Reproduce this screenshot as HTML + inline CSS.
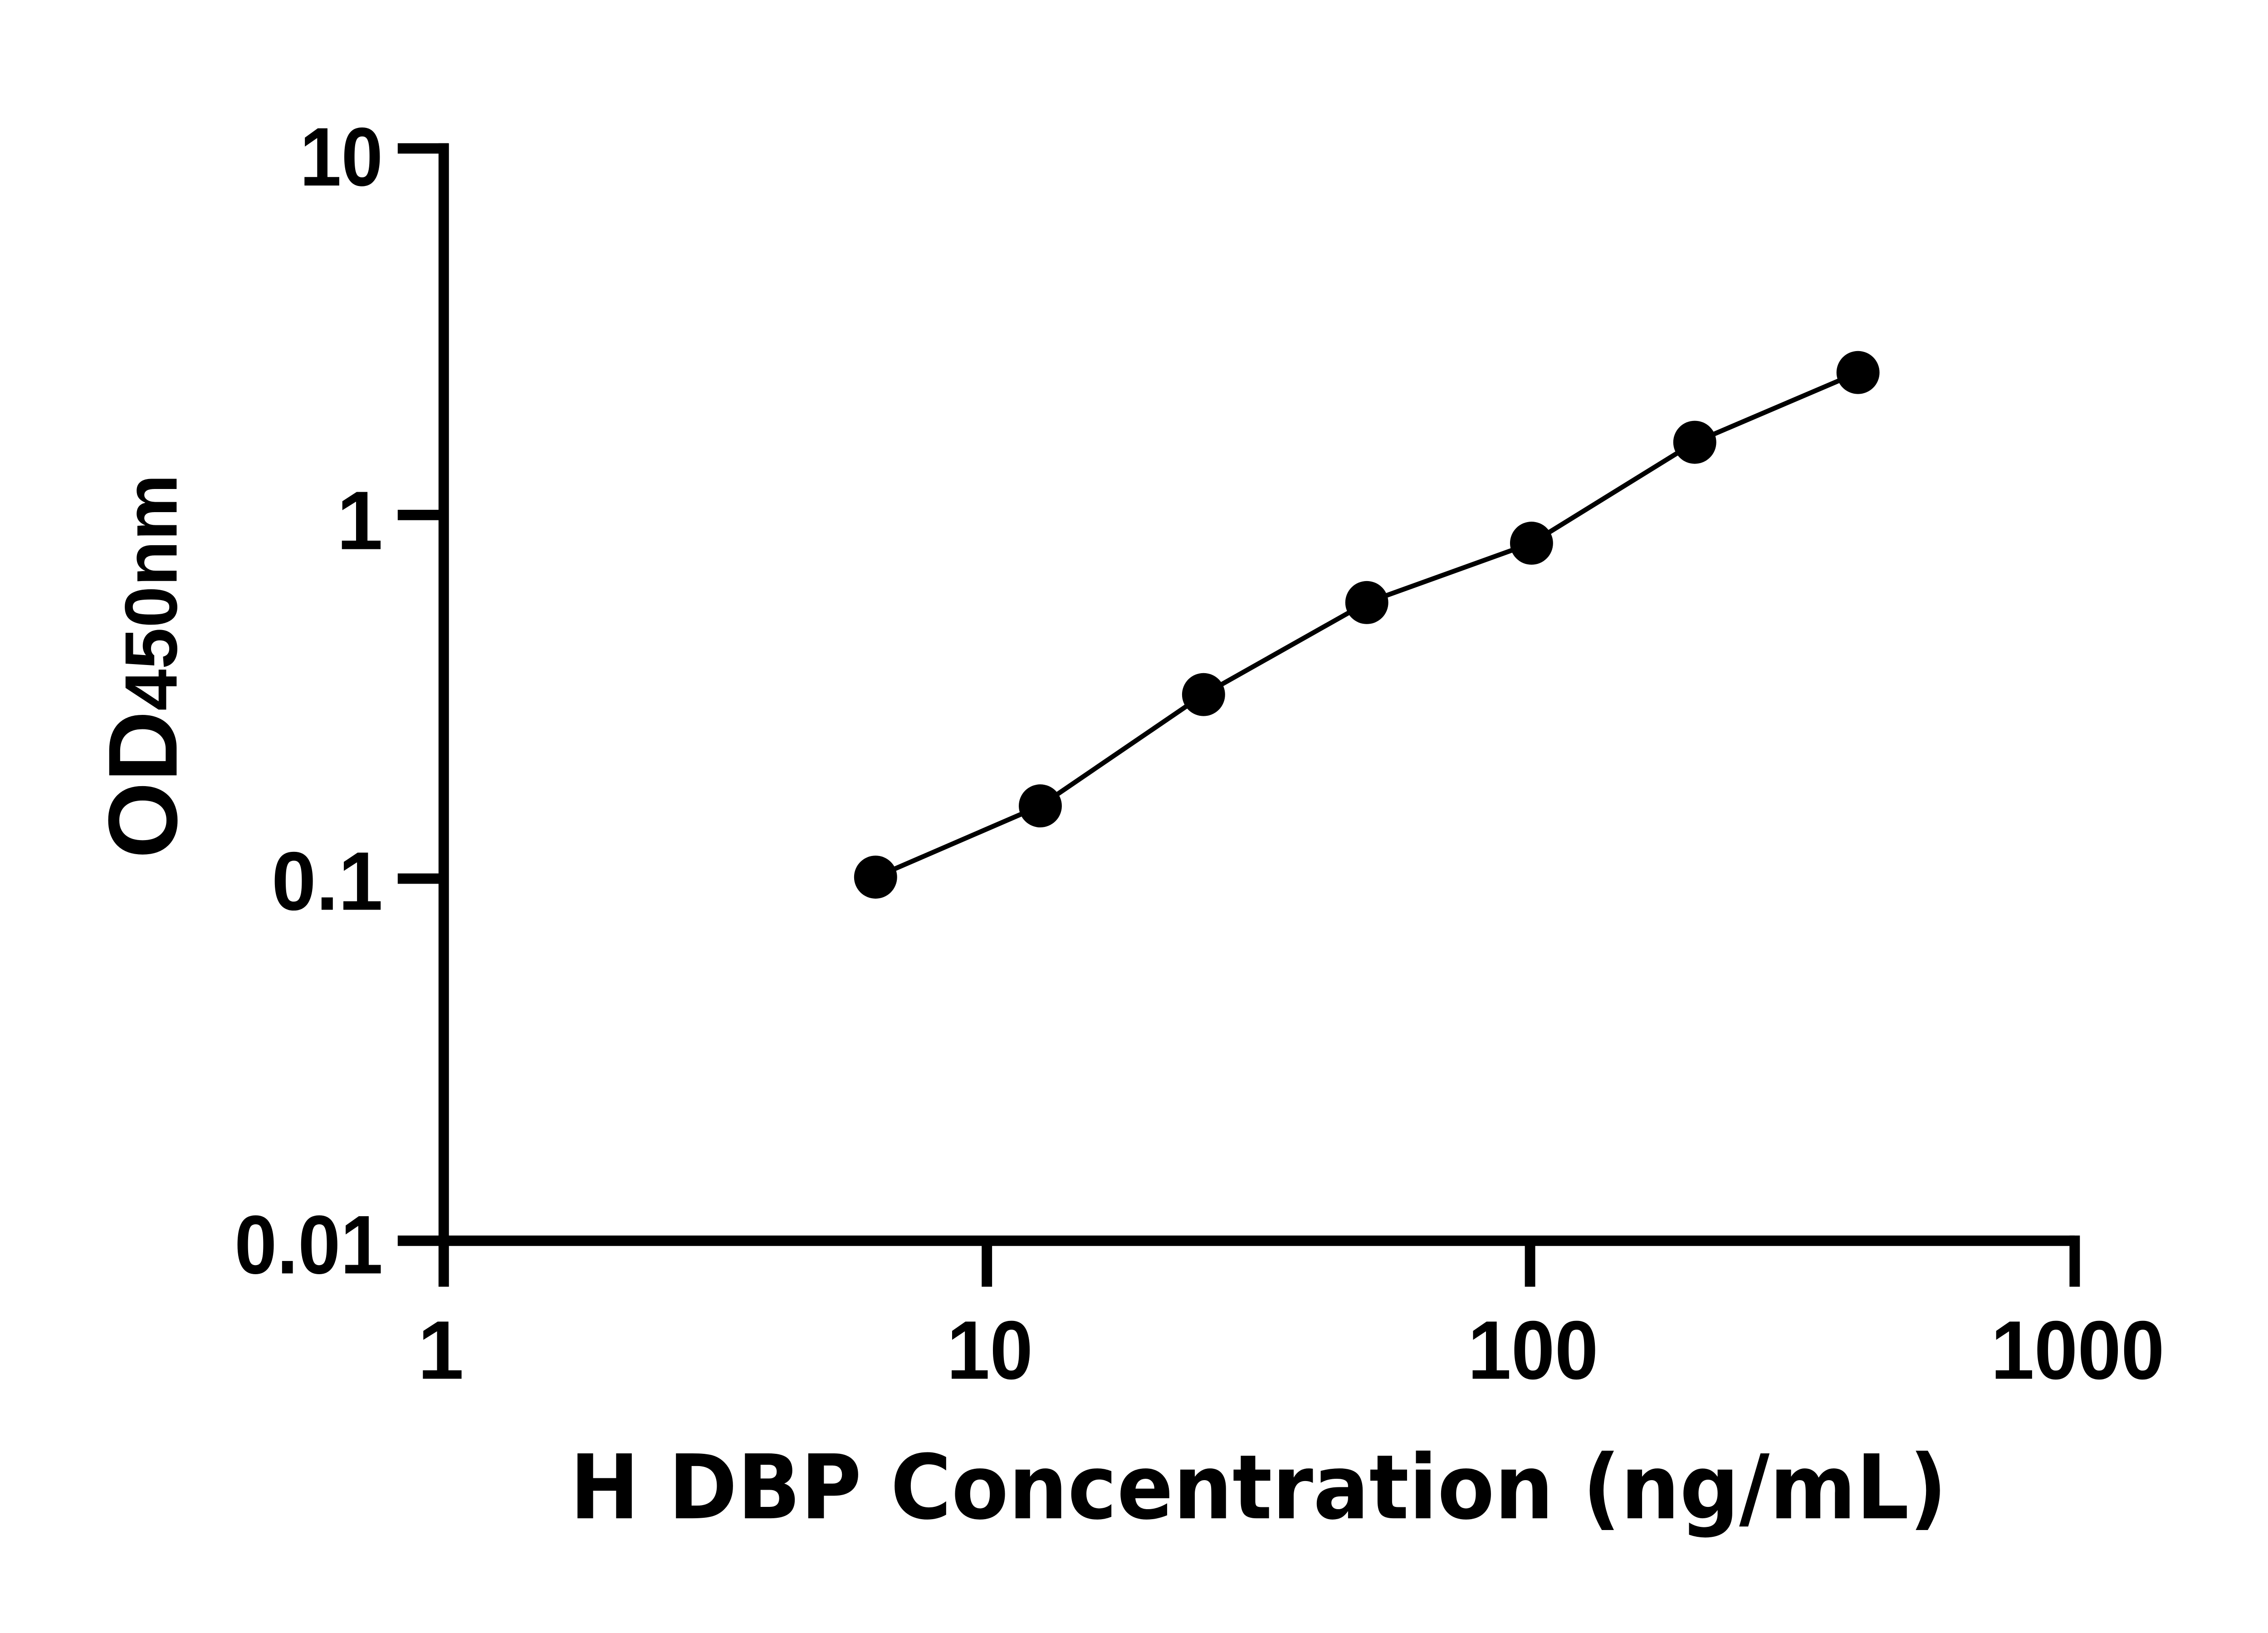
<!DOCTYPE html>
<html><head><meta charset="utf-8"><style>
html,body{margin:0;padding:0;background:#fff;}
svg{display:block;}
text{font-weight:bold;fill:#000;}
.a{font-family:"Liberation Sans",Arial,sans-serif;}
.d{font-family:"DejaVu Sans","Liberation Sans",sans-serif;}
</style></head><body>
<svg width="5130" height="3600" viewBox="0 0 1568 1100.3" preserveAspectRatio="none" xmlns="http://www.w3.org/2000/svg">
<rect width="1568" height="1101" fill="#fff"/>
<g stroke="#000" stroke-width="7" fill="none" stroke-linecap="butt">
<line x1="299" y1="96.5" x2="299" y2="836"/>
<line x1="295.5" y1="836" x2="1398" y2="836"/>
<line x1="268" y1="100" x2="302" y2="100"/>
<line x1="268" y1="347" x2="299" y2="347"/>
<line x1="268" y1="592" x2="299" y2="592"/>
<line x1="268" y1="836" x2="299" y2="836"/>
<line x1="299" y1="836" x2="299" y2="867"/>
<line x1="665" y1="836" x2="665" y2="867"/>
<line x1="1031" y1="836" x2="1031" y2="867"/>
<line x1="1398" y1="832.5" x2="1398" y2="867"/>
</g>
<polyline points="590,591 701,543 811,468 921,406 1032,366 1142,298 1252,251" fill="none" stroke="#000" stroke-width="3.2"/>
<g fill="#000">
<circle cx="590" cy="591" r="14.5"/><circle cx="701" cy="543" r="14.5"/><circle cx="811" cy="468" r="14.5"/>
<circle cx="921" cy="406" r="14.5"/><circle cx="1032" cy="366" r="14.5"/><circle cx="1142" cy="298" r="14.5"/>
<circle cx="1252" cy="251" r="14.5"/>
</g>
<g class="a" font-size="56" text-anchor="end">
<text x="258" y="125" textLength="56" lengthAdjust="spacingAndGlyphs">10</text>
<text x="258" y="370">1</text>
<text x="258" y="613" textLength="75" lengthAdjust="spacingAndGlyphs">0.1</text>
<text x="258" y="858" textLength="100" lengthAdjust="spacingAndGlyphs">0.01</text>
</g>
<g class="a" font-size="56" text-anchor="middle">
<text x="297" y="929">1</text>
<text x="667" y="929" textLength="58" lengthAdjust="spacingAndGlyphs">10</text>
<text x="1033" y="929" textLength="88" lengthAdjust="spacingAndGlyphs">100</text>
<text x="1400" y="929" textLength="117" lengthAdjust="spacingAndGlyphs">1000</text>
</g>
<text class="d" x="848" y="1023" font-size="60" text-anchor="middle" textLength="928" lengthAdjust="spacingAndGlyphs">H DBP Concentration (ng/mL)</text>
<text class="a" transform="translate(119,449) rotate(-90)" text-anchor="middle" font-size="66" textLength="259" lengthAdjust="spacingAndGlyphs">OD<tspan font-size="50">450nm</tspan></text>
</svg>
</body></html>
